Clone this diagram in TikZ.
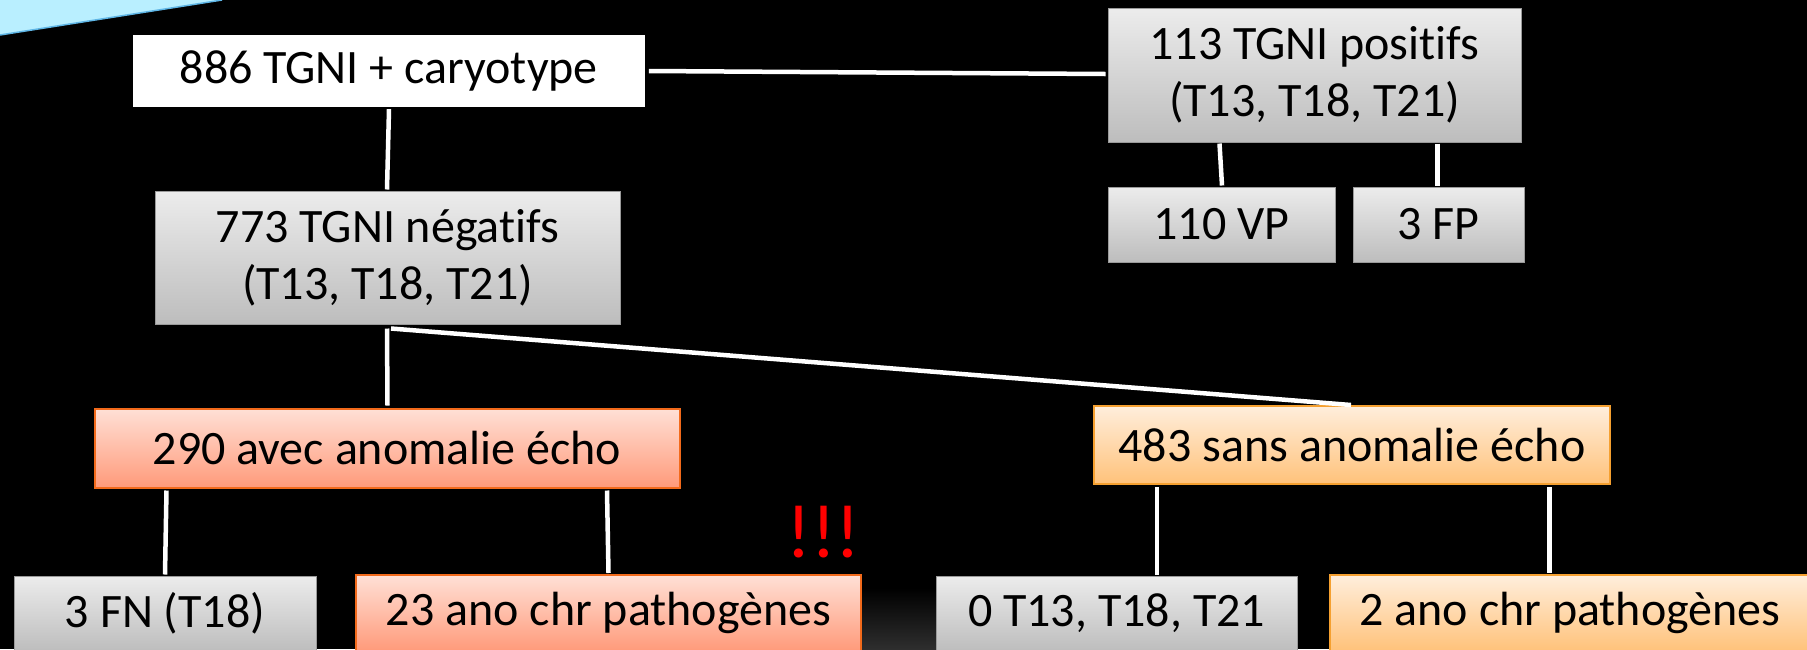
\documentclass[tikz,border=0pt]{standalone}
\usepackage{fontspec}
\setmainfont{Carlito}[Ligatures={NoCommon}]
\usetikzlibrary{calc}
\definecolor{greytop}{HTML}{ECECEC}
\definecolor{greybot}{HTML}{BDBDBD}
\definecolor{greyedge}{HTML}{9A9A9A}
\definecolor{redtop}{HTML}{FFE0D6}
\definecolor{redbot}{HTML}{FF9A7A}
\definecolor{rededge}{HTML}{F26A1B}
\definecolor{orgtop}{HTML}{FFEEDC}
\definecolor{orgbot}{HTML}{FFC27A}
\definecolor{orgedge}{HTML}{F5A030}
\definecolor{bannerfill}{HTML}{B9EFFF}
\definecolor{banneredge}{HTML}{5FB6E6}
\definecolor{alertred}{HTML}{FF0000}
\begin{document}
\begin{tikzpicture}[x=1pt,y=-1pt,
  basebox/.style={rectangle, inner sep=0pt, text=black, align=center,
    font=\fontsize{48}{57}\selectfont},
  whitebox/.style={basebox, fill=white},
  greybox/.style={basebox, draw=greyedge, line width=1pt, top color=greytop, bottom color=greybot},
  redbox/.style={basebox, draw=rededge, line width=2pt, top color=redtop, bottom color=redbot},
  orangebox/.style={basebox, draw=orgedge, line width=2pt, top color=orgtop, bottom color=orgbot},
  link/.style={draw=white, line width=4.5pt}]
\useasboundingbox (0,0) rectangle (1807,649);
\clip (0,0) rectangle (1807,649);
\fill[black] (0,0) rectangle (1807,649);
\shade[top color=black, bottom color=white!18!black] (840,588) rectangle (960,649);
% banner in the corner
\fill[bannerfill] (0,0) -- (222,0) -- (0,35) -- cycle;
\draw[banneredge, line width=1.5pt] (0,35) -- (222,0);

% boxes
\node[whitebox, minimum width=512, minimum height=72] (n886) at (388.7,71) {886 TGNI + caryotype};
\node[greybox, minimum width=465, minimum height=133] (n773) at (387.5,257.5) {773 TGNI négatifs\\(T13, T18, T21)};
\node[greybox, minimum width=413, minimum height=134] (n113) at (1314.5,75) {113 TGNI positifs\\(T13, T18, T21)};
\node[greybox, minimum width=227, minimum height=75] (n110) at (1221.5,224.5) {110 VP};
\node[greybox, minimum width=171, minimum height=75] (n3fp) at (1438.5,224.5) {3 FP};
\node[redbox, minimum width=585, minimum height=79] (n290) at (387,448) {290 avec anomalie écho};
\node[orangebox, minimum width=516, minimum height=78] (n483) at (1352,445) {483 sans anomalie écho};
\node[greybox, minimum width=302, minimum height=75] (n3fn) at (165,613.5) {3 FN (T18)};
\node[redbox, minimum width=505, minimum height=76] (n23) at (608.5,613) {23 ano chr pathogènes};
\node[greybox, minimum width=361, minimum height=75] (n0t) at (1116.5,613.5) {0 T13, T18, T21};
\node[orangebox, minimum width=480, minimum height=76] (n2ano) at (1570,613) {2 ano chr pathogènes};
\node[text=alertred, inner sep=0pt, font=\fontsize{76}{80}\selectfont] (alert) at (823.5,532) {!!!};

% connectors
\draw[link] ($(n886.south)+(0.3,2)$) -- ($(n773.north)+(-0.5,-1)$);
\draw[link] ($(n886.east)+(4,0)$) -- ($(n113.west)+(-2,-1)$);
\draw[link] ($(n113.south)+(-95,1)$) -- ($(n110.north)+(0.5,-1)$);
\draw[link] ($(n113.south)+(123,1)$) -- ($(n3fp.north)+(-1,-1)$);
\draw[link] ($(n773.south)+(-0.5,4)$) -- ($(n290.north)+(0.5,-2)$);
\draw[link] ($(n773.south)+(3.5,4)$) -- ($(n483.north)+(-1,0)$);
\draw[link] ($(n290.south)+(-220.5,2)$) -- ($(n3fn.north)+(0,-1)$);
\draw[link] ($(n290.south)+(220,2)$) -- ($(n23.north)+(0,-1)$);
\draw[link] ($(n483.south)+(-195,2)$) -- ($(n0t.north)+(40.5,-1)$);
\draw[link] ($(n483.south)+(197.5,2)$) -- ($(n2ano.north)+(-20.5,-1)$);
\end{tikzpicture}
\end{document}
